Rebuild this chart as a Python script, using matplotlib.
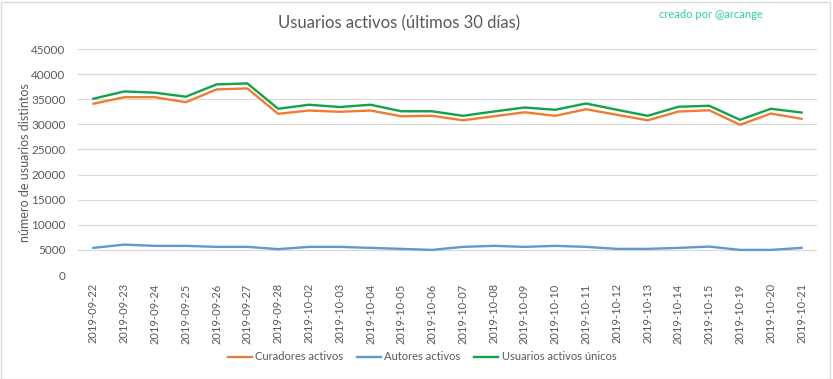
import matplotlib
matplotlib.use("Agg")
import matplotlib.pyplot as plt
from matplotlib.patches import Rectangle

dates = ["2019-09-22", "2019-09-23", "2019-09-24", "2019-09-25", "2019-09-26",
         "2019-09-27", "2019-09-28", "2019-10-02", "2019-10-03", "2019-10-04",
         "2019-10-05", "2019-10-06", "2019-10-07", "2019-10-08", "2019-10-09",
         "2019-10-10", "2019-10-11", "2019-10-12", "2019-10-13", "2019-10-14",
         "2019-10-15", "2019-10-19", "2019-10-20", "2019-10-21"]

curadores = [34100, 35400, 35400, 34400, 36950, 37150, 32100, 32750, 32500, 32750,
             31600, 31700, 30800, 31600, 32400, 31700, 33000, 31900, 30800, 32550,
             32800, 29900, 32150, 31100]

autores = [5400, 6050, 5800, 5800, 5600, 5600, 5150, 5600, 5600, 5400,
           5200, 5000, 5600, 5800, 5600, 5800, 5600, 5200, 5200, 5400,
           5650, 5000, 5000, 5400]

unicos = [35100, 36550, 36300, 35500, 37950, 38150, 33100, 33900, 33450, 33900,
          32600, 32600, 31700, 32550, 33350, 32900, 34150, 32900, 31700, 33500,
          33700, 30900, 33100, 32350]

yticks = [0, 5000, 10000, 15000, 20000, 25000, 30000, 35000, 40000, 45000]

plt.rcParams['font.family'] = ['Lato', 'DejaVu Sans']
gray = '#595959'

fig = plt.figure(figsize=(8.33, 3.79), dpi=100)
ax = fig.add_axes([78/833, 1 - 275/379, (817-78)/833, (275-49)/379])

x = list(range(len(dates)))
l1, = ax.plot(x, curadores, color='#ED7D31', lw=1.7, label='Curadores activos', solid_joinstyle='round')
l2, = ax.plot(x, autores, color='#5B9BD5', lw=1.7, label='Autores activos', solid_joinstyle='round')
l3, = ax.plot(x, unicos, color='#12A24A', lw=1.7, label='Usuarios activos únicos', solid_joinstyle='round')

ax.set_xlim(-0.5, len(dates) - 0.5)
ax.set_ylim(0, 45000)
ax.set_yticks(yticks)
ax.set_yticklabels([str(v) for v in yticks], fontsize=8.5, color=gray)
ax.set_xticks(x)
ax.set_xticklabels(dates, rotation=90, fontsize=8, color=gray)
ax.tick_params(axis='both', length=0, pad=6)
ax.tick_params(axis='y', pad=9)
ax.grid(axis='y', color='#d9d9d9', lw=0.8)
ax.set_axisbelow(True)
for s in ax.spines.values():
    s.set_visible(False)

fig.text(25/833, 1 - 163/379, 'número de usuarios distintos', rotation=90, ha='center', va='center',
         fontsize=9, color=gray)

fig.text(399/833, 1 - 23/379, 'Usuarios activos (últimos 30 días)', ha='center', va='center',
         fontsize=12, color=gray)
fig.text(763/833, 1 - 15/379, 'creado por @arcange', ha='right', va='center',
         fontsize=8, color='#2ED0A6')

fig.legend(handles=[l1, l2, l3], loc='center', bbox_to_anchor=(422/833, 1 - 357/379),
           ncol=3, frameon=False, fontsize=8, handlelength=2.2, handletextpad=0.3,
           columnspacing=1.2, labelcolor=gray)

fig.patches.append(Rectangle((0.5/833, 0.5/379), 1 - 4/833, 1 - 2/379, transform=fig.transFigure,
                             fill=False, edgecolor='#d9d9d9', lw=1))

fig.savefig('out.png', dpi=100, facecolor='white')
